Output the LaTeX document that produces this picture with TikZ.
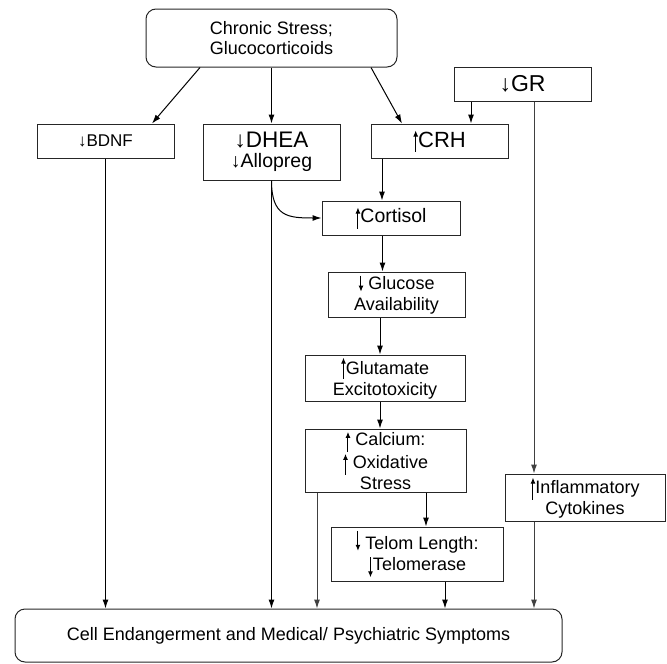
\documentclass[tikz,border=0pt]{standalone}
\usepackage{fontspec}
\setmainfont{Liberation Sans}
\usetikzlibrary{arrows.meta}
% small drawn arrows inside the labels
\newcommand{\upa}[2]{\tikz[baseline=0pt]\draw[-{Latex[length=6pt,width=5pt]},line width=1pt] (0pt,#1)--(0pt,#2);}
\newcommand{\dna}[2]{\tikz[baseline=0pt]\draw[-{Latex[length=6pt,width=5pt]},line width=1pt] (0pt,#2)--(0pt,#1);}
\newcommand{\fs}[1]{\fontsize{#1}{1.18\dimexpr#1pt\relax}\selectfont}

\begin{document}
\begin{tikzpicture}[x=1pt,y=-1pt,>={Latex[length=9pt,width=6pt]},
  box/.style={draw=black!85,line width=1pt,inner sep=0pt,align=center,font=\fontsize{18}{20.5}\selectfont},
  rbox/.style={box,rounded corners=10pt},
  every path/.style={line width=1pt}]
\useasboundingbox (0,0) rectangle (667,664);
\node[rbox,minimum width=251pt,minimum height=58pt] (stress) at (271.5,38) {Chronic Stress;\\Glucocorticoids};
\node[box,minimum width=137pt,minimum height=34pt] (bdnf) at (105.5,141) {\fs{17}↓BDNF};
\node[box,minimum width=137pt,minimum height=56pt] (dhea) at (271.5,152) {{\fontsize{22.5}{25}\selectfont ↓DHEA}\\{\fs{19.5}↓Allopreg}};
\node[box,minimum width=137pt,minimum height=34pt] (crh) at (439.5,141) {\fs{22}\upa{-4pt}{17pt}CRH};
\node[box,minimum width=137pt,minimum height=34pt] (gr) at (522.5,84) {\fs{23}↓GR};
\node[box,minimum width=138pt,minimum height=34pt] (cortisol) at (391,218) {\fs{19.5}\upa{-6pt}{15pt}Cortisol};
\node[box,minimum width=137pt,minimum height=45pt] (glucose) at (396.5,294.5) {\dna{-2pt}{14pt} Glucose\\Availability};
\node[box,minimum width=160pt,minimum height=46pt] (glutamate) at (385,378) {\upa{-4pt}{17pt}Glutamate\\Excitotoxicity};
\node[box,minimum width=161pt,minimum height=63pt] (calcium) at (385.5,460.5) {\upa{-6pt}{14pt} Calcium:\\\upa{-6pt}{15pt} Oxidative\\Stress};
\node[box,minimum width=160pt,minimum height=47pt] (inflam) at (585,497.5) {\upa{-6pt}{16pt}Inflammatory\\Cytokines};
\node[box,minimum width=172pt,minimum height=54pt] (telom) at (417,554) {\dna{-1pt}{19pt} Telom Length:\\\dna{-7pt}{13pt}Telomerase};
\node[rbox,minimum width=547pt,minimum height=53pt] (cell) at (288.5,635.5) {Cell Endangerment and Medical/ Psychiatric Symptoms};

% from the stress box
\draw[->] ([xshift=-71.5pt]stress.south) -- ([xshift=46.5pt]bdnf.north);
\draw[->] (stress.south) -- (dhea.north);
\draw[->] ([xshift=99.5pt]stress.south) -- ([xshift=-37.5pt]crh.north);
% GR
\draw[->] ([xshift=-51.5pt]gr.south) -- ([xshift=-51.5pt]gr.south |- crh.north);
\draw[->,black!75] ([xshift=11.5pt]gr.south) -- ([xshift=11.5pt]gr.south |- inflam.north);
% central chain
\draw[->] ([xshift=-57.5pt]crh.south) -- ([xshift=-57.5pt]crh.south |- cortisol.north);
\draw[->] (dhea.south) .. controls +(0,36) and +(-34,0) .. (cortisol.west);
\draw[->] ([xshift=-8.5pt]cortisol.south) -- ([xshift=-8.5pt]cortisol.south |- glucose.north);
\draw[->] ([xshift=-5pt]glutamate.north |- glucose.south) -- ([xshift=-5pt]glutamate.north);
\draw[->] ([xshift=-5pt]glutamate.south) -- ([xshift=-5pt]glutamate.south |- calcium.north);
\draw[->] ([xshift=40.5pt]calcium.south) -- ([xshift=40.5pt]calcium.south |- telom.north);
% into the bottom box
\draw[->] (bdnf.south) -- (bdnf.south |- cell.north);
\draw[->] (dhea.south) -- (dhea.south |- cell.north);
\draw[->,black!75] ([xshift=-68.5pt]calcium.south) -- ([xshift=-68.5pt]calcium.south |- cell.north);
\draw[->] ([xshift=28pt]telom.south) -- ([xshift=28pt]telom.south |- cell.north);
\draw[->,black!75] ([xshift=-51pt]inflam.south) -- ([xshift=-51pt]inflam.south |- cell.north);
\end{tikzpicture}
\end{document}
